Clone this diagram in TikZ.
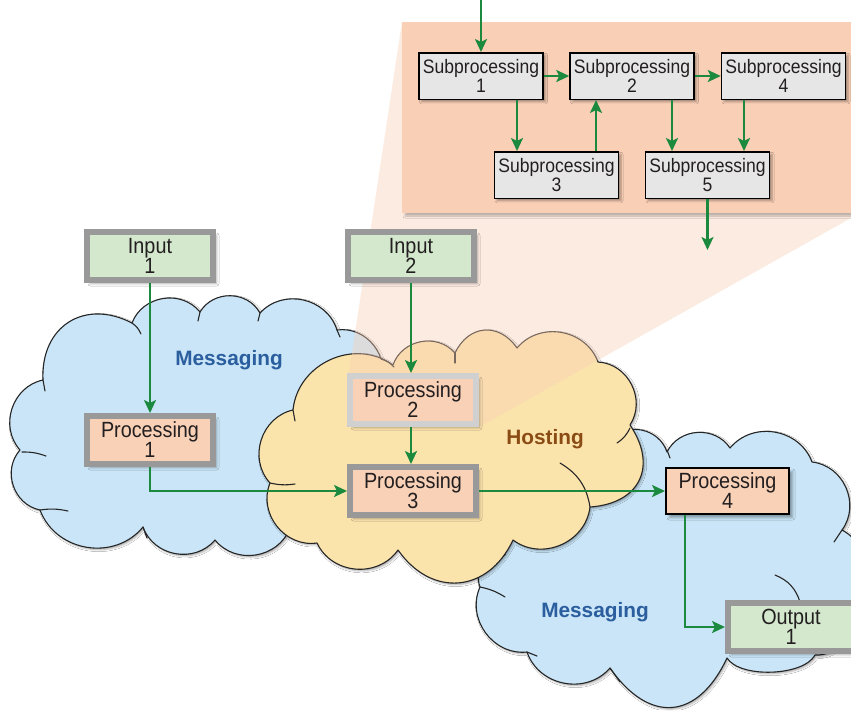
\documentclass[tikz,border=0pt]{standalone}
\usepackage{fontspec}
\setmainfont{Liberation Sans}
\newfontfamily\boxfont[FakeStretch=0.9]{Liberation Sans}
\usetikzlibrary{arrows.meta,shadows.blur}

\definecolor{cblue}{HTML}{C9E5F7}
\definecolor{cyel}{HTML}{FBE3AC}
\definecolor{peach}{HTML}{F9CFB5}
\definecolor{boxgreen}{HTML}{D3E8CC}
\definecolor{boxsalmon}{HTML}{F9D1B7}
\definecolor{bordgray}{HTML}{999999}
\definecolor{bordlight}{HTML}{D0D0D0}
\definecolor{subgray}{HTML}{E6E6E6}
\definecolor{agreen}{HTML}{1B8A3E}
\definecolor{msgblue}{HTML}{2B5E9E}
\definecolor{hostbrown}{HTML}{8A4B14}
\definecolor{txt}{HTML}{231F20}

\begin{document}
\begin{tikzpicture}[x=1pt,y=-1pt,
  pf/.style={bend left=60, looseness=#1}, pf/.default=1.1,
  cloudpath/.style={draw=black!85, line width=1.1pt, line join=round,
    blur shadow={shadow xshift=1.5pt, shadow yshift=-1.5pt, shadow blur radius=2pt, shadow opacity=35}},
  cstroke/.style={draw=black!85, line width=1.1pt, line cap=round},
  bshadow/.style={blur shadow={shadow xshift=3.5pt, shadow yshift=-3.5pt, shadow blur radius=2.5pt, shadow opacity=35}},
  gbox/.style={draw=bordgray, line width=6pt, minimum width=126pt, minimum height=48pt, inner sep=0pt,
    align=center, text=txt, font=\boxfont\fontsize{22}{20}\selectfont, bshadow},
  fgreen/.style={fill=boxgreen},
  fsalmon/.style={fill=boxsalmon},
  sbox/.style={draw=black, line width=1.5pt, fill=subgray, minimum width=124pt, minimum height=46.5pt, inner sep=0pt,
    align=center, text=txt, font=\boxfont\fontsize{19.5}{19.3}\selectfont,
    blur shadow={shadow xshift=2.5pt, shadow yshift=-2.5pt, shadow blur radius=2pt, shadow opacity=35}},
  arr/.style={draw=agreen, line width=2.3pt, -{Stealth[length=13pt,width=12pt,inset=3pt]}},
  cloudlabel/.style={font=\bfseries\fontsize{20.8}{24}\selectfont}
]
\useasboundingbox (0,0) rectangle (851,710);
\fill[white] (0,0) rectangle (851,710);

% ---- left messaging cloud
\path[cloudpath, fill=cblue] (43,380) to[pf=1.3] (132,323) to[pf] (200,312) to[pf] (260,313) to[pf] (337,330)
  to[pf] (380,385) to[pf] (330,500) to[pf] (290,528) to[pf] (215,540) to[pf] (143,527) to[pf] (40,510)
  to[pf] (20,450) to[pf] (43,380) -- cycle;
\draw[cstroke] (132,323) to[bend left=15] (141,334);
\draw[cstroke] (43,380) -- (45,391);
\draw[cstroke] (22,452) to[bend left=10] (46,456);
\draw[cstroke] (40,510) to[bend left=10] (68,511);
\draw[cstroke] (143,527) -- (147,538);
\draw[cstroke] (200,312) -- (198,321);
\draw[cstroke] (260,313) -- (258,321);
\draw[cstroke] (337,330) -- (340,337);

% ---- right messaging cloud
\path[cloudpath, fill=cblue] (610,440) to[pf] (667,452) to[pf] (730,448) to[pf] (812,462) to[pf] (842,530)
  to[pf] (845,610) to[pf] (815,655) to[pf=0.7] (727,658) to[pf=1.5] (610,668) to[pf] (527,652)
  to[pf] (480,587) to[pf] (505,555) to[pf] (560,500) to[pf] (610,440) -- cycle;
\draw[cstroke] (667,450) -- (670,458);
\draw[cstroke] (842,530) -- (834,542);
\draw[cstroke] (775,575) to[bend left=25] (800,602);
\draw[cstroke] (610,668) -- (620,682);
\draw[cstroke] (527,652) -- (537,656);
\draw[cstroke] (480,587) to[bend left=10] (505,597);

% ---- hosting cloud
\path[cloudpath, fill=cyel] (293,410) to[pf] (393,365) to[pf] (455,353) to[pf=1.3] (517,348) to[pf] (598,362)
  to[pf] (630,425) to[pf=1.4] (590,507) to[pf] (513,540) to[pf=1.3] (398,550) to[pf] (317,543)
  to[pf] (270,483) to[pf] (293,410) -- cycle;
\draw[cstroke] (293,410) -- (295,421);
\draw[cstroke] (381,359) to[bend left=15] (394,367);
\draw[cstroke] (455,353) -- (455,363);
\draw[cstroke] (630,428) to[bend left=15] (617,443);
\draw[cstroke] (560,463) to[bend left=25] (590,507);
\draw[cstroke] (270,483) to[bend right=10] (295,484);

% zoom cone
\fill[peach, opacity=0.4] (402,22) -- (851,22) -- (851,218) -- (479,427) -- (349,373) -- cycle;

% panel
\fill[peach, blur shadow={shadow xshift=3pt, shadow yshift=-3pt, shadow blur radius=2pt, shadow opacity=25}] (402,22) rectangle (870,213);

% cloud labels
\node[cloudlabel, text=msgblue] (m1) at (229,360) {Messaging};
\node[cloudlabel, text=hostbrown] (host) at (545,439) {Hosting};
\node[cloudlabel, text=msgblue] (m2) at (595,612) {Messaging};

% main boxes
\node[gbox, fgreen] (in1) at (150,256) {Input\\1};
\node[gbox, fgreen] (in2) at (411,256) {Input\\2};
\node[gbox, fsalmon] (p1) at (150,440) {Processing\\1};
\node[gbox, fsalmon, draw=bordlight] (p2) at (413,400) {Processing\\2};
\node[gbox, fsalmon] (p3) at (413,491) {Processing\\3};
\node[gbox, fsalmon, draw=black, line width=2pt, minimum width=123pt, minimum height=46pt] (p4) at (727.5,491) {Processing\\4};
\node[gbox, fgreen] (out1) at (791,627) {Output\\1};

% sub boxes
\node[sbox] (sp1) at (481,76) {Subprocessing\\1};
\node[sbox] (sp2) at (632,76) {Subprocessing\\2};
\node[sbox] (sp4) at (783.5,76) {Subprocessing\\4};
\node[sbox] (sp3) at (556.5,175) {Subprocessing\\3};
\node[sbox] (sp5) at (707.5,175) {Subprocessing\\5};

\coordinate (topin) at (481,0);
\coordinate (subout) at (707.5,250);

% sub arrows
\draw[arr] (topin) -- (sp1.north);
\draw[arr] (sp1.east) -- (sp2.west);
\draw[arr] (sp2.east) -- (sp4.west);
\draw[arr] (sp1.south -| 517,0) -- (sp3.north -| 517,0);
\draw[arr] (sp3.north -| 596,0) -- (sp2.south -| 596,0);
\draw[arr] (sp2.south -| 672,0) -- (sp5.north -| 672,0);
\draw[arr] (sp4.south -| 744,0) -- (sp5.north -| 744,0);
\draw[arr] (sp5.south) -- (subout);

% main arrows
\draw[arr] (in1.south) -- (p1.north);
\draw[arr] (in2.south) -- (p2.north -| in2.south);
\draw[arr] (p2.south -| in2.south) -- (p3.north -| in2.south);
\draw[arr] (p1.south) |- (p3.west);
\draw[arr] (p3.east) -- (p4.west);
\draw[arr] (p4.south -| 685,0) |- (out1.west);
\end{tikzpicture}
\end{document}
